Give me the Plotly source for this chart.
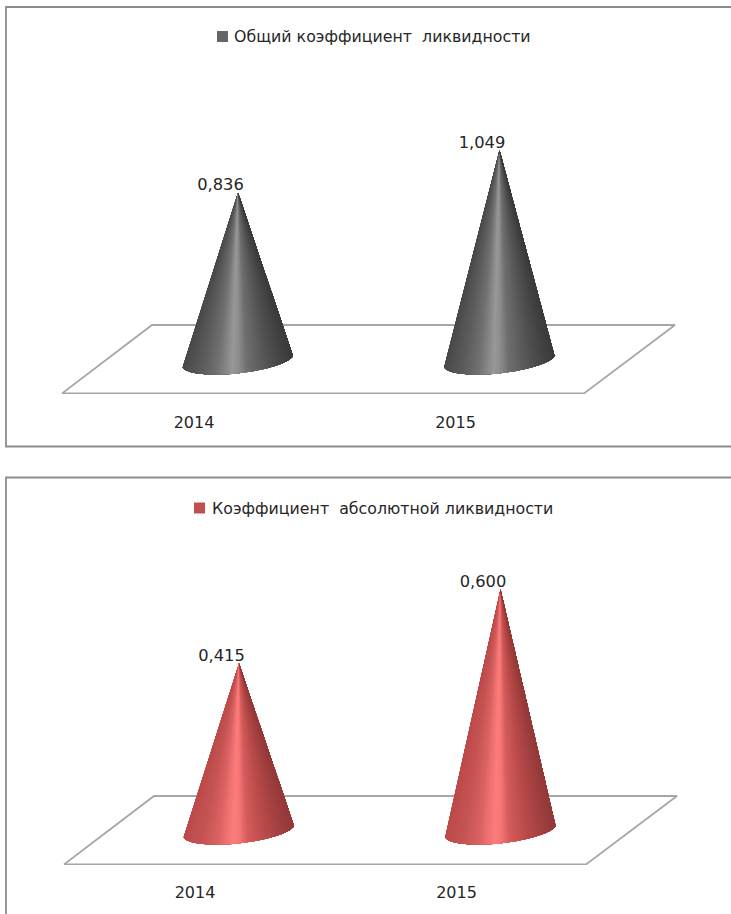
import plotly.graph_objects as go
import numpy as np

WIDTH, HEIGHT = 731, 914

categories = ["2014", "2015"]
total_name = "Общий коэффициент  ликвидности"
total_values = [0.836, 1.049]
absolute_name = "Коэффициент  абсолютной ликвидности"
absolute_values = [0.415, 0.600]

FONT = "DejaVu Sans"
TEXT = "#262626"
EDGE = "#a6a6a6"

# shading across a cone: position on the base (-1 left, 1 right) and RGB at that position
shade_pos = [-1.0, -0.55, -0.25, -0.1, 0.04, 0.15, 0.3, 0.6, 1.0]
grey_shades = [[72, 92, 112, 132, 152, 142, 112, 88, 60]] * 3
red_shades = [[188, 198, 218, 238, 252, 246, 212, 185, 148],
              [74, 84, 98, 112, 124, 118, 92, 74, 58],
              [74, 84, 98, 112, 124, 118, 92, 74, 58]]

panels = [
    dict(name=total_name, values=total_values, shades=grey_shades, swatch="#666666",
         px_top=7, px_bottom=446.5, px_left=6, px_floor=394, px_base=360, px_per_unit=200,
         px_tick0=194, px_floor_left=62, px_floor_back=325, swatch_x=222.5, label_x=233, legend_y=36.5,
         tick_gap=14),
    dict(name=absolute_name, values=absolute_values, shades=red_shades, swatch="#c0504d",
         px_top=477.5, px_bottom=925, px_left=6, px_floor=865, px_base=830, px_per_unit=401,
         px_tick0=195, px_floor_left=64, px_floor_back=796, swatch_x=199.5, label_x=211, legend_y=508,
         tick_gap=13),
]

CAT_STEP = 261.5          # pixels between categories
CONE_SHIFT = 44           # depth offset of a cone behind its tick
FLOOR_SKEW = 90           # horizontal run of the floor's depth edges
FLOOR_LEN = 522
A = (55, -4)              # base ellipse semi-axis along its width
B = (-8, 14)              # base ellipse semi-axis towards the viewer
N_WEDGES = 120

fig = go.Figure()
shapes, annotations = [], []

for i, p in enumerate(panels, start=1):
    xname = "x" if i == 1 else f"x{i}"
    yname = "y" if i == 1 else f"y{i}"
    to_x = lambda px, p=p: (px - p["px_tick0"]) / CAT_STEP
    to_y = lambda py, p=p: (p["px_base"] - py) / p["px_per_unit"]
    dx = 1 / CAT_STEP
    dy = 1 / p["px_per_unit"]

    # floor plate
    fl = p["px_floor_left"]
    fig.add_trace(go.Scatter(
        x=[to_x(fl), to_x(fl + FLOOR_LEN), to_x(fl + FLOOR_LEN + FLOOR_SKEW + 1),
           to_x(fl + FLOOR_SKEW), to_x(fl)],
        y=[to_y(p["px_floor"]) + 0.6 * dy, to_y(p["px_floor"]) + 0.6 * dy,
           to_y(p["px_floor_back"]), to_y(p["px_floor_back"]), to_y(p["px_floor"]) + 0.6 * dy],
        mode="lines", line=dict(color=EDGE, width=1.8), hoverinfo="skip",
        showlegend=False, xaxis=xname, yaxis=yname))

    # cones: each wedge runs from the tip to the rest of the base arc,
    # painted left to right so neighbours leave no seams
    t = np.linspace(np.pi, 0, N_WEDGES + 1)
    for k, v in enumerate(p["values"]):
        cx = k + CONE_SHIFT * dx
        ax, ay = A[0] * dx, -A[1] * dy
        bx, by = B[0] * dx, -B[1] * dy
        arc_x = cx + ax * np.cos(t) + bx * np.sin(t)
        arc_y = ay * np.cos(t) + by * np.sin(t)
        for j in range(N_WEDGES):
            u = np.cos(t[j] + (t[j + 1] - t[j]) / 2)
            r, g, bl = [int(round(np.interp(u, shade_pos, s))) for s in p["shades"]]
            col = f"rgb({r},{g},{bl})"
            fig.add_trace(go.Scatter(
                x=[cx, *arc_x[j:], cx],
                y=[v, *arc_y[j:], v],
                mode="lines", fill="toself", fillcolor=col,
                line=dict(width=0, color=col), hoverinfo="skip",
                showlegend=False, xaxis=xname, yaxis=yname))

    # value labels sit up and to the left of each tip
    fig.add_trace(go.Scatter(
        x=[k + (CONE_SHIFT - 17.5) * dx for k in range(len(categories))],
        y=[v + 6.5 * dy for v in p["values"]],
        text=[f"{v:.3f}".replace(".", ",") for v in p["values"]],
        mode="text", textposition="middle center",
        textfont=dict(family=FONT, size=16.3, color=TEXT),
        hoverinfo="skip", showlegend=False, xaxis=xname, yaxis=yname))

    axis_x = dict(
        domain=[0, 1], range=[to_x(0), to_x(WIDTH)], tickmode="array",
        tickvals=list(range(len(categories))), ticktext=categories,
        ticks="outside", ticklen=p["tick_gap"], tickcolor="rgba(0,0,0,0)",
        tickfont=dict(family=FONT, size=16, color=TEXT),
        showgrid=False, zeroline=False, showline=False, anchor=yname)
    axis_y = dict(
        domain=[1 - p["px_floor"] / HEIGHT, 1 - p["px_top"] / HEIGHT],
        range=[to_y(p["px_floor"]), to_y(p["px_top"])],
        showticklabels=False, ticks="", showgrid=False, zeroline=False,
        showline=False, anchor=xname)
    fig.update_layout({f"xaxis{'' if i == 1 else i}": axis_x,
                       f"yaxis{'' if i == 1 else i}": axis_y})

    # panel frame, open where it runs off the page
    x0 = p["px_left"] / WIDTH
    y_top, y_bot = 1 - p["px_top"] / HEIGHT, 1 - p["px_bottom"] / HEIGHT
    shapes.append(dict(type="path", xref="paper", yref="paper", layer="above",
                       path=f"M 1.01,{y_top} L {x0},{y_top} L {x0},{y_bot} L 1.01,{y_bot}",
                       line=dict(color="#8c8c8c", width=1.8)))

    # legend key and series name
    y_leg = 1 - p["legend_y"] / HEIGHT
    half_w, half_h = 5.5 / WIDTH, 5.5 / HEIGHT
    sx = p["swatch_x"] / WIDTH
    shapes.append(dict(type="rect", xref="paper", yref="paper",
                       x0=sx - half_w, x1=sx + half_w, y0=y_leg - half_h, y1=y_leg + half_h,
                       fillcolor=p["swatch"], line=dict(width=0)))
    annotations.append(dict(
        xref="paper", yref="paper", xanchor="left", yanchor="middle", showarrow=False,
        x=p["label_x"] / WIDTH, y=y_leg, xshift=-1, text=p["name"],
        font=dict(family=FONT, size=15.8, color=TEXT)))

fig.update_layout(
    width=WIDTH, height=HEIGHT, margin=dict(l=0, r=0, t=0, b=0),
    paper_bgcolor="white", plot_bgcolor="white", showlegend=False,
    shapes=shapes, annotations=annotations)

fig.write_html("out.html")
